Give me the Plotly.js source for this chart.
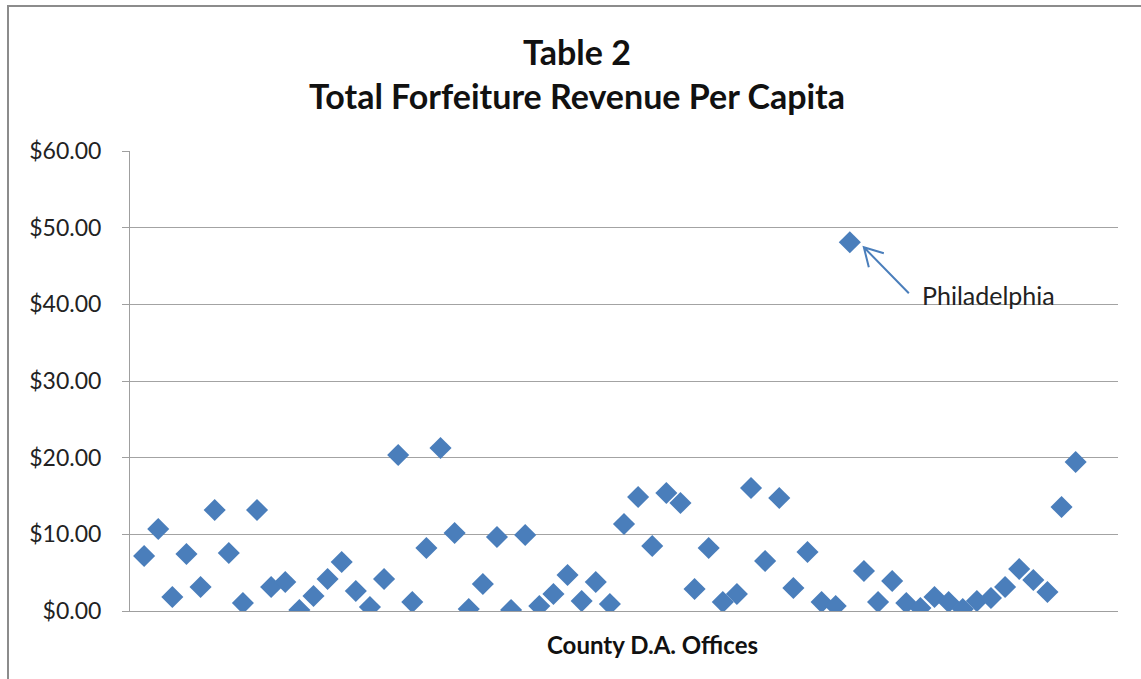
<!DOCTYPE html>
<html><head><meta charset="utf-8">
<script src="https://cdn.plot.ly/plotly-3.0.1.min.js"></script>
<style>
html,body{margin:0;padding:0;background:#fff;}
#wrap{position:relative;width:1141px;height:679px;overflow:hidden;}
#chart{position:absolute;left:0;top:0;width:1141px;height:679px;}
#frame{position:absolute;left:7px;top:5px;width:1200px;height:800px;border-left:2px solid #8c8c8c;border-top:2px solid #8c8c8c;pointer-events:none;}
</style></head>
<body><div id="wrap"><div id="chart"></div><div id="frame"></div></div>
<script>
const counties = Array.from({length:67}, (_, i) => i + 1);
const revenuePerCapita = [
 7.17, 10.70, 1.83, 7.43, 3.13, 13.17, 7.57, 1.04, 13.17, 3.13,
 3.78, 0.13, 1.96, 4.17, 6.39, 2.61, 0.52, 4.17, 20.35, 1.17,
 8.22, 21.26, 10.17, 0.26, 3.52, 9.65, 0.13, 9.91, 0.65, 2.22,
 4.70, 1.30, 3.78, 0.91, 11.35, 14.87, 8.48, 15.39, 14.09, 2.87,
 8.22, 1.17, 2.22, 16.04, 6.52, 14.74, 3.00, 7.70, 1.17, 0.65,
 48.10, 5.22, 1.17, 3.91, 1.04, 0.39, 1.83, 1.17, 0.26, 1.30,
 1.70, 3.13, 5.48, 4.04, 2.48, 13.56, 19.43
];
const yTicks = [0, 10, 20, 30, 40, 50, 60];
const yTickLabels = yTicks.map(v => '$' + v.toFixed(2));
const outlierIndex = 50;

const font = 'Lato, "Open Sans", sans-serif';
const blue = '#4a7ebb';

const trace = {
  x: counties, y: revenuePerCapita, type: 'scatter', mode: 'markers',
  marker: {symbol: 'diamond', size: 17, color: blue, line: {width: 0}},
  hoverinfo: 'y'
};

const layout = {
  width: 1141, height: 679,
  margin: {l: 130, r: 23, t: 151, b: 68},
  paper_bgcolor: '#fff', plot_bgcolor: '#fff',
  showlegend: false,
  font: {family: font, color: '#222'},
  title: {
    text: 'Table 2<br>Total Forfeiture Revenue Per Capita',
    font: {family: font, size: 34, color: '#111', weight: 'bold'},
    x: 577/1141, xref: 'container', xanchor: 'center',
    y: 1 - 65/679, yref: 'container', yanchor: 'middle'
  },
  xaxis: {
    range: [0, 70], showgrid: false, zeroline: false, showticklabels: false,
    ticks: '', showline: true, linecolor: '#9f9f9f', linewidth: 1, fixedrange: true
  },
  yaxis: {
    range: [0, 60], tickvals: yTicks, ticktext: yTickLabels,
    showgrid: true, gridcolor: '#a3a3a3', gridwidth: 1, zeroline: false,
    showline: true, linecolor: '#9f9f9f', linewidth: 1,
    ticks: 'outside', ticklen: 7, tickcolor: '#9f9f9f', ticklabelstandoff: 16,
    tickfont: {family: font, size: 23, color: '#222'}, fixedrange: true
  },
  annotations: [
    {
      xref: 'paper', yref: 'paper', x: (652 - 130) / 988, y: -0.072,
      xanchor: 'center', yanchor: 'middle', showarrow: false,
      text: 'County D.A. Offices',
      font: {family: font, size: 24, color: '#111', weight: 'bold'}
    },
    {
      x: counties[outlierIndex], y: revenuePerCapita[outlierIndex],
      xref: 'x', yref: 'y', showarrow: false, text: 'Philadelphia',
      xanchor: 'left', yanchor: 'middle', xshift: 70, yshift: -53,
      font: {family: font, size: 25, color: '#222'}
    }
  ],
  shapes: [
    {
      type: 'path', xref: 'x', yref: 'y',
      xsizemode: 'pixel', ysizemode: 'pixel',
      xanchor: counties[outlierIndex], yanchor: revenuePerCapita[outlierIndex],
      path: 'M59,-51L14,-5M34,-11L14,-5L19,-25',
      line: {color: blue, width: 2}
    }
  ]
};

Plotly.newPlot('chart', [trace], layout, {displayModeBar: false, staticPlot: true});
</script></body></html>
